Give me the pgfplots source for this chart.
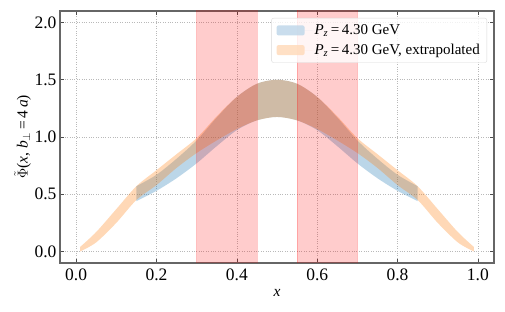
\documentclass[border=0pt]{standalone}
\usepackage{fontspec}
\setmainfont{Liberation Serif}
\usepackage{pgfplots}
\pgfplotsset{compat=1.18}
\usepgfplotslibrary{fillbetween}
\definecolor{tabblue}{RGB}{31,119,180}
\definecolor{taborange}{RGB}{255,127,14}
\definecolor{blueL}{RGB}{188,214,233}
\definecolor{orangeL}{RGB}{255,217,183}
\begin{document}
\begin{tikzpicture}
\begin{axis}[
  name=ax,
  scale only axis,
  width=434bp, height=252bp,
  xmin=-0.04, xmax=1.04,
  ymin=-0.1, ymax=2.1,
  xtick={0,0.2,0.4,0.6,0.8,1.0},
  ytick={0,0.5,1.0,1.5,2.0},
  /pgf/number format/fixed,
  /pgf/number format/fixed zerofill,
  /pgf/number format/precision=1,
  /pgf/number format/assume math mode=true,
  tick label style={font=\fontsize{17.5bp}{20bp}\selectfont, text=black},
  xticklabel style={yshift=-2bp},
  label style={font=\fontsize{15.5bp}{18bp}\selectfont},
  tick align=inside,
  major tick length=4bp,
  every tick/.style={black!70, line width=0.6bp},
  axis line style={black!60, line width=1.1bp},
  grid=major,
  grid style={dotted, gray!55, line width=0.5bp},
  xlabel={\textit{x}},
  ylabel={$\tilde{\Phi}$(\textit{x}, \textit{b}\textsubscript{$\perp$}\,=\,4\,\textit{a})},
  x label style={at={(axis description cs:0.5,-0.119)}, anchor=center},
  y label style={at={(axis description cs:-0.086,0.5)}, anchor=center},
  legend cell align=left,
  legend style={at={(axis description cs:1,1)}, xshift=-7bp, yshift=-7bp, anchor=north east,
    draw=black!15, rounded corners=2bp, fill=white, fill opacity=0.8, text opacity=1,
    font=\fontsize{15bp}{18bp}\selectfont, row sep=4bp, inner xsep=5bp, inner ysep=4.5bp},
  legend image code/.code={\fill[#1] (0bp,-5bp) rectangle (28bp,5bp); \path (28bp,0bp) -- (36bp,0bp);},
]
\addlegendimage{fill=blueL, draw=none}
\addlegendentry{\textit{P}\textsubscript{\textit{z}}\,=\,4.30 GeV}
\addlegendimage{fill=orangeL, draw=none}
\addlegendentry{\textit{P}\textsubscript{\textit{z}}\,=\,4.30 GeV, extrapolated}

% blue band (x, lower, upper)
\addplot[draw=none, smooth, name path=bl, forget plot] table[x index=0, y index=1] {
0.15 0.44
0.20 0.53
0.25 0.64
0.30 0.77
0.35 0.92
0.40 1.06
0.45 1.145
0.50 1.175
0.55 1.145
0.60 1.06
0.65 0.92
0.70 0.77
0.75 0.64
0.80 0.53
0.85 0.44
};
\addplot[draw=none, smooth, name path=bu, forget plot] table[x index=0, y index=1] {
0.15 0.57
0.20 0.67
0.25 0.81
0.30 0.97
0.35 1.17
0.40 1.35
0.45 1.465
0.50 1.50
0.55 1.465
0.60 1.35
0.65 1.17
0.70 0.97
0.75 0.81
0.80 0.67
0.85 0.57
};
\addplot[tabblue, fill opacity=0.3, draw=none, forget plot] fill between[of=bu and bl];

% orange band
\addplot[draw=none, smooth, name path=ol, forget plot] table[x index=0, y index=1] {
0.01 0.00
0.05 0.08
0.10 0.25
0.15 0.45
0.20 0.58
0.25 0.73
0.30 0.86
0.35 0.97
0.40 1.07
0.45 1.145
0.50 1.175
0.55 1.145
0.60 1.07
0.65 0.97
0.70 0.86
0.75 0.73
0.80 0.58
0.85 0.45
0.90 0.25
0.95 0.08
0.99 0.00
};
\addplot[draw=none, smooth, name path=ou, forget plot] table[x index=0, y index=1] {
0.01 0.04
0.05 0.17
0.10 0.37
0.15 0.57
0.20 0.71
0.25 0.85
0.30 0.99
0.35 1.18
0.40 1.35
0.45 1.465
0.50 1.50
0.55 1.465
0.60 1.35
0.65 1.18
0.70 0.99
0.75 0.85
0.80 0.71
0.85 0.57
0.90 0.37
0.95 0.17
0.99 0.04
};
\addplot[taborange, fill opacity=0.3, draw=none, forget plot] fill between[of=ou and ol];

% red vertical spans
\addplot[fill=red, fill opacity=0.2, draw=red, draw opacity=0.2, forget plot] coordinates {(0.30,-1) (0.30,3) (0.45,3) (0.45,-1) (0.30,-1)};
\addplot[fill=red, fill opacity=0.2, draw=red, draw opacity=0.2, forget plot] coordinates {(0.55,-1) (0.55,3) (0.70,3) (0.70,-1) (0.55,-1)};
\end{axis}
\pgfresetboundingbox
\path[use as bounding box] ([shift={(-60bp,-49bp)}]ax.south west) rectangle ([shift={(11bp,11bp)}]ax.north east);
\end{tikzpicture}
\end{document}
